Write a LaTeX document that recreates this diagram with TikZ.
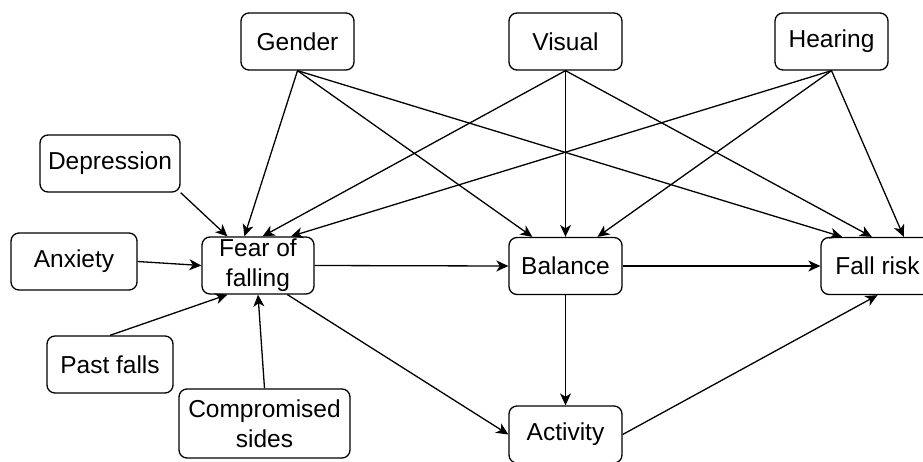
\documentclass[tikz,border=0pt]{standalone}
\usepackage{fontspec}
\setmainfont{Liberation Sans}
\usetikzlibrary{arrows.meta,calc}
\begin{document}
\begin{tikzpicture}[x=1pt,y=-1pt,
  box/.style={draw,line width=1.3pt,rounded corners=8pt,minimum width=113pt,minimum height=57pt,inner sep=1pt,align=center,font=\fontsize{24.5}{30}\selectfont},
  link/.style={line width=1.3pt,-{Stealth[length=12pt,width=11pt,inset=3.5pt]}}]
\useasboundingbox (0,0) rectangle (923,461);
\node[box] (gender) at (297.5,41.5) {Gender};
\node[box] (visual) at (565.5,41.5) {Visual};
\node[box] (hearing) at (831.5,41.5) {Hearing};
\node[box,minimum width=140pt] (depression) at (110,163.5) {Depression};
\node[box,minimum width=126pt] (anxiety) at (74,261.5) {Anxiety};
\node[box,minimum width=112pt] (fear) at (258,265.5) {Fear of\\falling};
\node[box,minimum width=126pt] (past) at (110,364.5) {Past falls};
\node[box,minimum width=171pt,minimum height=69pt] (comp) at (264.5,423.5) {Compromised\\sides};
\node[box] (balance) at (565.5,266) {Balance};
\node[box] (fallrisk) at (877.5,266) {Fall risk};
\node[box] (activity) at (565.5,434.5) {Activity};
\draw[link] (gender.south) -- ($(fear.north west)!0.38!(fear.north east)$);
\draw[link] (gender.south) -- ($(balance.north west)!0.21!(balance.north east)$);
\draw[link] (gender.south) -- ($(fallrisk.north west)!0.19!(fallrisk.north east)$);
\draw[link] (visual.south) -- ($(fear.north west)!0.54!(fear.north east)$);
\draw[link] (visual.south) -- (balance.north);
\draw[link] (visual.south) -- ($(fallrisk.north west)!0.45!(fallrisk.north east)$);
\draw[link] (hearing.south) -- ($(fear.north west)!0.79!(fear.north east)$);
\draw[link] (hearing.south) -- ($(balance.north west)!0.78!(balance.north east)$);
\draw[link] (hearing.south) -- ($(fallrisk.north west)!0.73!(fallrisk.north east)$);
\draw[link] (depression.south east) -- ($(fear.north west)!0.23!(fear.north east)$);
\draw[link] (anxiety.east) -- (fear.west);
\draw[link] (past.north) -- ($(fear.south west)!0.23!(fear.south east)$);
\draw[link] (comp.north) -- (fear.south);
\draw[link] (fear.east) -- (balance.west);
\draw[link] ($(fear.south west)!0.76!(fear.south east)$) -- (activity.west);
\draw[link] (balance.east) -- (fallrisk.west);
\draw[link] (balance.south) -- (activity.north);
\draw[link] (activity.east) -- (fallrisk.south);
\end{tikzpicture}
\end{document}
